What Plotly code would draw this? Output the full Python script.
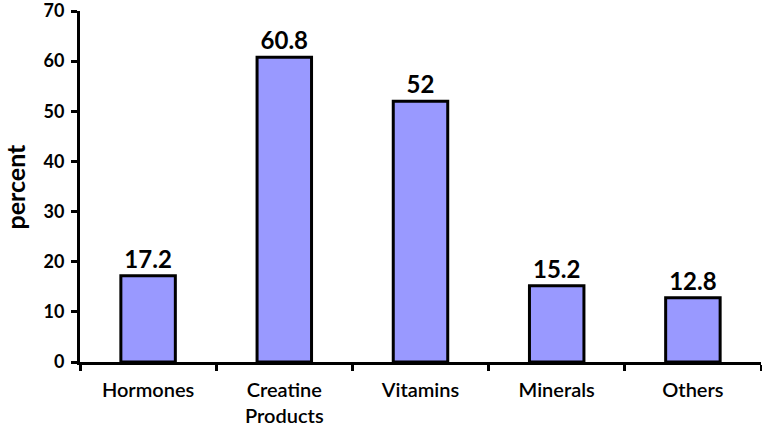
import plotly.graph_objects as go

categories = ["Hormones", "Creatine<br>Products", "Vitamins", "Minerals", "Others"]
values = [17.2, 60.8, 52, 15.2, 12.8]
value_labels = ["17.2", "60.8", "52", "15.2", "12.8"]
y_ticks = [0, 10, 20, 30, 40, 50, 60, 70]

fig = go.Figure(go.Bar(
    x=categories, y=values,
    width=0.4,
    marker=dict(color="#9999FF", line=dict(color="black", width=3)),
    text=value_labels, textposition="outside", cliponaxis=False,
    textfont=dict(family="Lato", size=24, color="black", weight="bold"),
))

fig.add_annotation(
    text="percent", textangle=-90,
    xref="paper", yref="paper", x=0, y=0.5,
    xanchor="center", yanchor="middle", xshift=-66, showarrow=False,
    font=dict(family="Lato", size=25, weight="bold", color="black"),
)

fig.update_layout(
    width=762, height=432,
    margin=dict(l=80, r=1, t=11, b=70, autoexpand=False),
    plot_bgcolor="white", paper_bgcolor="white",
    showlegend=False,
    font=dict(family="Lato", color="black"),
    xaxis=dict(
        type="category", tickson="boundaries", automargin=False,
        showline=True, linecolor="black", linewidth=3,
        ticks="outside", ticklen=6, tickwidth=3, tickcolor="black",
        tickfont=dict(family="Lato", size=20, weight=600),
        ticklabelstandoff=8, ticklabeloverflow="allow",
        showgrid=False, zeroline=False,
    ),
    yaxis=dict(
        range=[0, 70], tickvals=y_ticks, automargin=False,
        showline=True, linecolor="black", linewidth=3,
        ticks="outside", ticklen=6, tickwidth=3, tickcolor="black",
        tickfont=dict(family="Lato", size=18, weight="bold"),
        ticklabelstandoff=3, ticklabeloverflow="allow",
        showgrid=False, zeroline=False,
    ),
)

fig.write_html(
    "out.html",
    config={"displayModeBar": False},
    post_script="document.body.style.margin='0';document.body.style.overflow='hidden';",
)
